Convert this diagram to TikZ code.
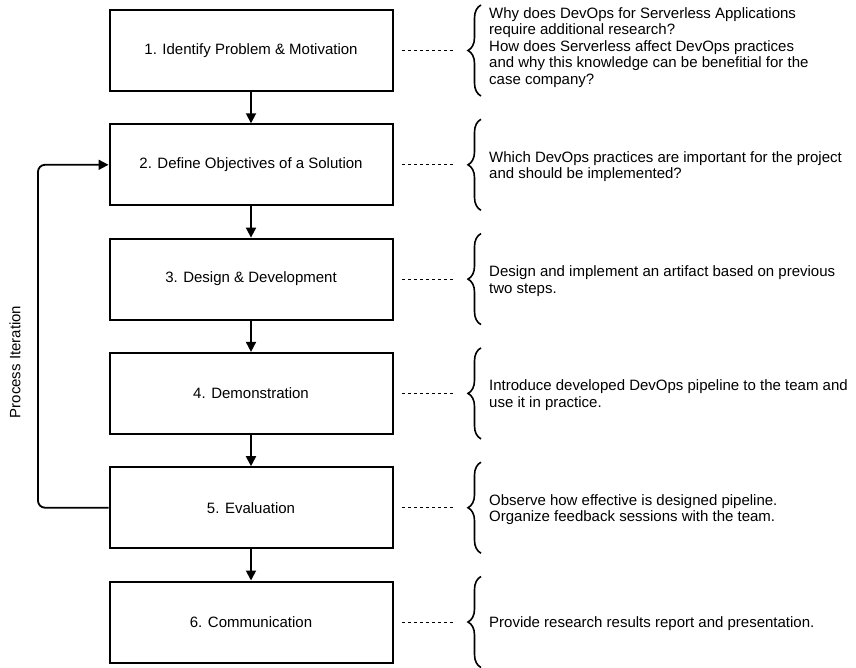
\documentclass[tikz,border=0pt]{standalone}
\usepackage{fontspec}
\setmainfont{Liberation Sans}
\usetikzlibrary{arrows.meta,decorations.pathreplacing}
\begin{document}
\begin{tikzpicture}[x=1pt,y=-1pt,
  stepbox/.style={draw,line width=2pt,minimum width=283pt,minimum height=81pt,inner sep=0pt,font=\fontsize{15}{16.6}\selectfont},
  note/.style={anchor=west,align=left,inner sep=0pt,font=\fontsize{15}{16.6}\selectfont},
  flow/.style={line width=1.8pt,-{Triangle[length=10pt,width=10pt]}},
  guide/.style={line width=0.9pt,dash pattern=on 3pt off 3pt},
  bracket/.style={line width=1.6pt,decorate,decoration={brace,amplitude=13pt,aspect=0.5}}]
\useasboundingbox (0,0) rectangle (856,668);

% process steps
\node[stepbox] (s1) at (251,50.5) {1. Identify Problem \& Motivation};
\node[stepbox] (s2) at (251,164.8) {2. Define Objectives of a Solution};
\node[stepbox] (s3) at (251,279.1) {3. Design \& Development};
\node[stepbox] (s4) at (251,393.4) {4. Demonstration};
\node[stepbox] (s5) at (251,507.7) {5. Evaluation};
\node[stepbox] (s6) at (251,622) {6. Communication};

\draw[flow] (s1) -- (s2);
\draw[flow] (s2) -- (s3);
\draw[flow] (s3) -- (s4);
\draw[flow] (s4) -- (s5);
\draw[flow] (s5) -- (s6);

% iteration loop back to the objectives
\coordinate (loopbot) at (38,507.7);
\coordinate (looptop) at (38,164.8);
\draw[flow,rounded corners=7pt] (s5.west) -- (loopbot) -- (looptop) -- (s2.west);
\node[rotate=90,font=\fontsize{15}{16.6}\selectfont] (iter) at (15,362) {Process Iteration};

% descriptions with braces
\foreach \i/\y/\dy/\txt in {
  1/50.5/-3/{Why does DevOps for Serverless Applications\\require additional research?\\How does Serverless affect DevOps practices\\and why this knowledge can be benefitial for the\\case company?},
  2/164.8/2/{Which DevOps practices are important for the project\\and should be implemented?},
  3/279.1/2/{Design and implement an artifact based on previous\\two steps.},
  4/393.4/2/{Introduce developed DevOps pipeline to the team and\\use it in practice.},
  5/507.7/2/{Observe how effective is designed pipeline.\\Organize feedback sessions with the team.},
  6/622/2/{Provide research results report and presentation.}}{
  \coordinate (g\i a) at (402,\y);
  \coordinate (g\i b) at (453,\y);
  \draw[guide] (g\i a) -- (g\i b);
  \coordinate (b\i bot) at (481,\y+45.5);
  \coordinate (b\i top) at (481,\y-45.5);
  \draw[bracket] (b\i bot) -- (b\i top);
  \node[note] (d\i) at (489,\y+\dy) {\txt};
}
\end{tikzpicture}
\end{document}
